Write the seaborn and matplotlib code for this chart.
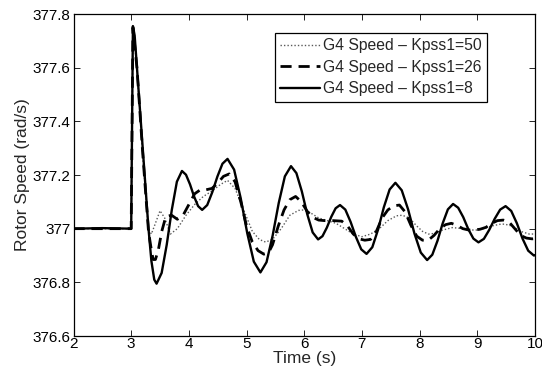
import matplotlib
matplotlib.use("Agg")
import matplotlib.pyplot as plt
import seaborn as sns
import pandas as pd

# Kpss1 = 8 (solid)
t_k8 = [2.0, 2.5, 3.0, 3.03, 3.06, 3.1, 3.2, 3.3, 3.35, 3.4, 3.44,
        3.528, 3.616, 3.704, 3.792, 3.88,
        3.95, 4.02, 4.09, 4.16, 4.23,
        4.318, 4.406, 4.494, 4.582, 4.67,
        4.784, 4.898, 5.012, 5.126, 5.24,
        5.346, 5.452, 5.558, 5.664, 5.77,
        5.864, 5.958, 6.052, 6.146, 6.24,
        6.316, 6.392, 6.468, 6.544, 6.62,
        6.712, 6.804, 6.896, 6.988, 7.08,
        7.18, 7.28, 7.38, 7.48, 7.58,
        7.69, 7.80, 7.91, 8.02, 8.13,
        8.22, 8.31, 8.40, 8.49, 8.58,
        8.668, 8.756, 8.844, 8.932, 9.02,
        9.114, 9.208, 9.302, 9.396, 9.49,
        9.588, 9.686, 9.784, 9.882, 9.98, 10.0]
v_k8 = [377.0, 377.002, 377.0, 377.755, 377.72, 377.6, 377.3, 377.0, 376.88, 376.81, 376.795,
        376.835, 376.94, 377.07, 377.175, 377.215,
        377.201, 377.165, 377.12, 377.084, 377.07,
        377.088, 377.136, 377.194, 377.242, 377.26,
        377.22, 377.114, 376.983, 376.877, 376.837,
        376.875, 376.974, 377.096, 377.195, 377.233,
        377.207, 377.139, 377.054, 376.986, 376.96,
        376.972, 377.004, 377.044, 377.076, 377.088,
        377.071, 377.025, 376.969, 376.923, 376.906,
        376.931, 376.997, 377.08, 377.146, 377.171,
        377.143, 377.072, 376.982, 376.911, 376.883,
        376.903, 376.955, 377.02, 377.072, 377.092,
        377.078, 377.043, 376.998, 376.963, 376.949,
        376.962, 376.996, 377.037, 377.071, 377.084,
        377.066, 377.02, 376.963, 376.918, 376.90, 376.901]

# Kpss1 = 26 (dashed)
t_k26 = [2.0, 3.0, 3.03, 3.1, 3.2, 3.3, 3.35, 3.38, 3.42, 3.47, 3.53, 3.6, 3.7, 3.8, 3.9, 4.0, 4.1, 4.2,
         4.3, 4.4, 4.5, 4.6, 4.7, 4.8, 4.9, 5.0, 5.1, 5.2, 5.3, 5.38, 5.45, 5.55, 5.65, 5.75, 5.85, 5.95,
         6.05, 6.15, 6.25, 6.35, 6.5, 6.65, 6.75, 6.85, 6.95, 7.05, 7.15, 7.25, 7.35, 7.45, 7.55, 7.65,
         7.75, 7.85, 7.95, 8.05, 8.15, 8.25, 8.35, 8.45, 8.55, 8.65, 8.75, 8.85, 8.95, 9.05, 9.15, 9.25,
         9.35, 9.45, 9.55, 9.65, 9.75, 9.85, 9.95, 10.0]
v_k26 = [377.0, 377.0, 377.75, 377.6, 377.28, 376.99, 376.92, 376.885, 376.885, 376.92, 376.99, 377.045,
         377.05, 377.035, 377.05, 377.09, 377.13, 377.145, 377.145, 377.15, 377.17, 377.195, 377.204,
         377.175, 377.1, 377.01, 376.95, 376.918, 376.905, 376.91, 376.94, 377.01, 377.07, 377.108,
         377.12, 377.1, 377.065, 377.042, 377.032, 377.03, 377.03, 377.028, 377.01, 376.98, 376.962,
         376.957, 376.96, 376.99, 377.04, 377.07, 377.085, 377.088, 377.062, 377.012, 376.972, 376.957,
         376.957, 376.975, 377.0, 377.015, 377.02, 377.012, 377.0, 376.995, 376.995, 376.998, 377.005,
         377.02, 377.03, 377.032, 377.025, 377.0, 376.975, 376.965, 376.962, 376.963]

# Kpss1 = 50 (dotted)
t_k50 = [2.0, 3.0, 3.03, 3.1, 3.2, 3.3, 3.35, 3.42, 3.5, 3.58, 3.68, 3.8, 3.95, 4.1, 4.25, 4.4, 4.55, 4.67,
         4.8, 4.95, 5.1, 5.22, 5.33, 5.45, 5.6, 5.75, 5.9, 6.0, 6.1, 6.25, 6.4, 6.55, 6.7, 6.85, 7.0, 7.15,
         7.3, 7.45, 7.6, 7.7, 7.82, 7.95, 8.05, 8.15, 8.25, 8.4, 8.57, 8.75, 8.9, 8.99, 9.1, 9.25, 9.38, 9.47,
         9.6, 9.75, 9.9, 10.0]
v_k50 = [377.0, 377.0, 377.75, 377.6, 377.27, 377.0, 376.98, 377.02, 377.067, 377.04, 376.98, 377.0, 377.05,
         377.09, 377.12, 377.14, 377.165, 377.18, 377.15, 377.07, 376.99, 376.96, 376.95, 376.96, 377.0, 377.05,
         377.068, 377.07, 377.06, 377.04, 377.03, 377.02, 377.0, 376.98, 376.97, 376.98, 377.0, 377.03, 377.048,
         377.05, 377.04, 377.01, 376.99, 376.98, 376.982, 376.995, 377.004, 377.0, 376.995, 376.995, 377.0,
         377.01, 377.016, 377.017, 377.01, 376.99, 376.98, 376.98]

labels = ["G4 Speed \u2013 Kpss1=50", "G4 Speed \u2013 Kpss1=26", "G4 Speed \u2013 Kpss1=8"]
x_ticks = [2, 3, 4, 5, 6, 7, 8, 9, 10]
y_ticks = [376.6, 376.8, 377.0, 377.2, 377.4, 377.6, 377.8]
y_tick_labels = ["376.6", "376.8", "377", "377.2", "377.4", "377.6", "377.8"]

sns.set_theme(style="white")
plt.rcParams["font.family"] = ["Liberation Sans", "DejaVu Sans"]

df50 = pd.DataFrame({"t": t_k50, "v": v_k50})
df26 = pd.DataFrame({"t": t_k26, "v": v_k26})
df8 = pd.DataFrame({"t": t_k8, "v": v_k8})

fig = plt.figure(figsize=(5.42, 3.74), dpi=100)
ax = fig.add_axes([73.5 / 542, 1 - 336 / 374, (535 - 73.5) / 542, (336 - 14) / 374])

sns.lineplot(data=df50, x="t", y="v", ax=ax, color="0.35", linestyle=(0, (1, 1.5)), linewidth=1.0,
             label=labels[0], sort=False, estimator=None)
sns.lineplot(data=df26, x="t", y="v", ax=ax, color="black", linestyle=(0, (4, 2.5)), linewidth=2.0,
             label=labels[1], sort=False, estimator=None)
sns.lineplot(data=df8, x="t", y="v", ax=ax, color="black", linestyle="-", linewidth=1.7,
             label=labels[2], sort=False, estimator=None)

ax.set_xlim(2, 10)
ax.set_ylim(376.6, 377.8)
ax.set_xticks(x_ticks)
ax.set_xticklabels([str(v) for v in x_ticks])
ax.set_yticks(y_ticks)
ax.set_yticklabels(y_tick_labels)
ax.tick_params(axis="both", which="both", direction="in", length=4, width=0.6, labelsize=11,
               top=True, right=True, bottom=True, left=True, colors="black", pad=2)
ax.tick_params(axis="x", pad=1)
for sp in ax.spines.values():
    sp.set_color("black")
    sp.set_linewidth(0.9)

ax.set_xlabel("Time (s)", fontsize=12.5, labelpad=0)
ax.set_ylabel("Rotor Speed (rad/s)", fontsize=12.5, labelpad=2)

leg = ax.legend(loc="upper right", bbox_to_anchor=(0.896, 0.941), fontsize=11.3, frameon=True,
                fancybox=False, edgecolor="black", framealpha=1, borderpad=0.35, labelspacing=0.4,
                handlelength=2.5, handletextpad=0.2, borderaxespad=0)
leg.get_frame().set_linewidth(0.9)

fig.savefig("out.png", dpi=100)
